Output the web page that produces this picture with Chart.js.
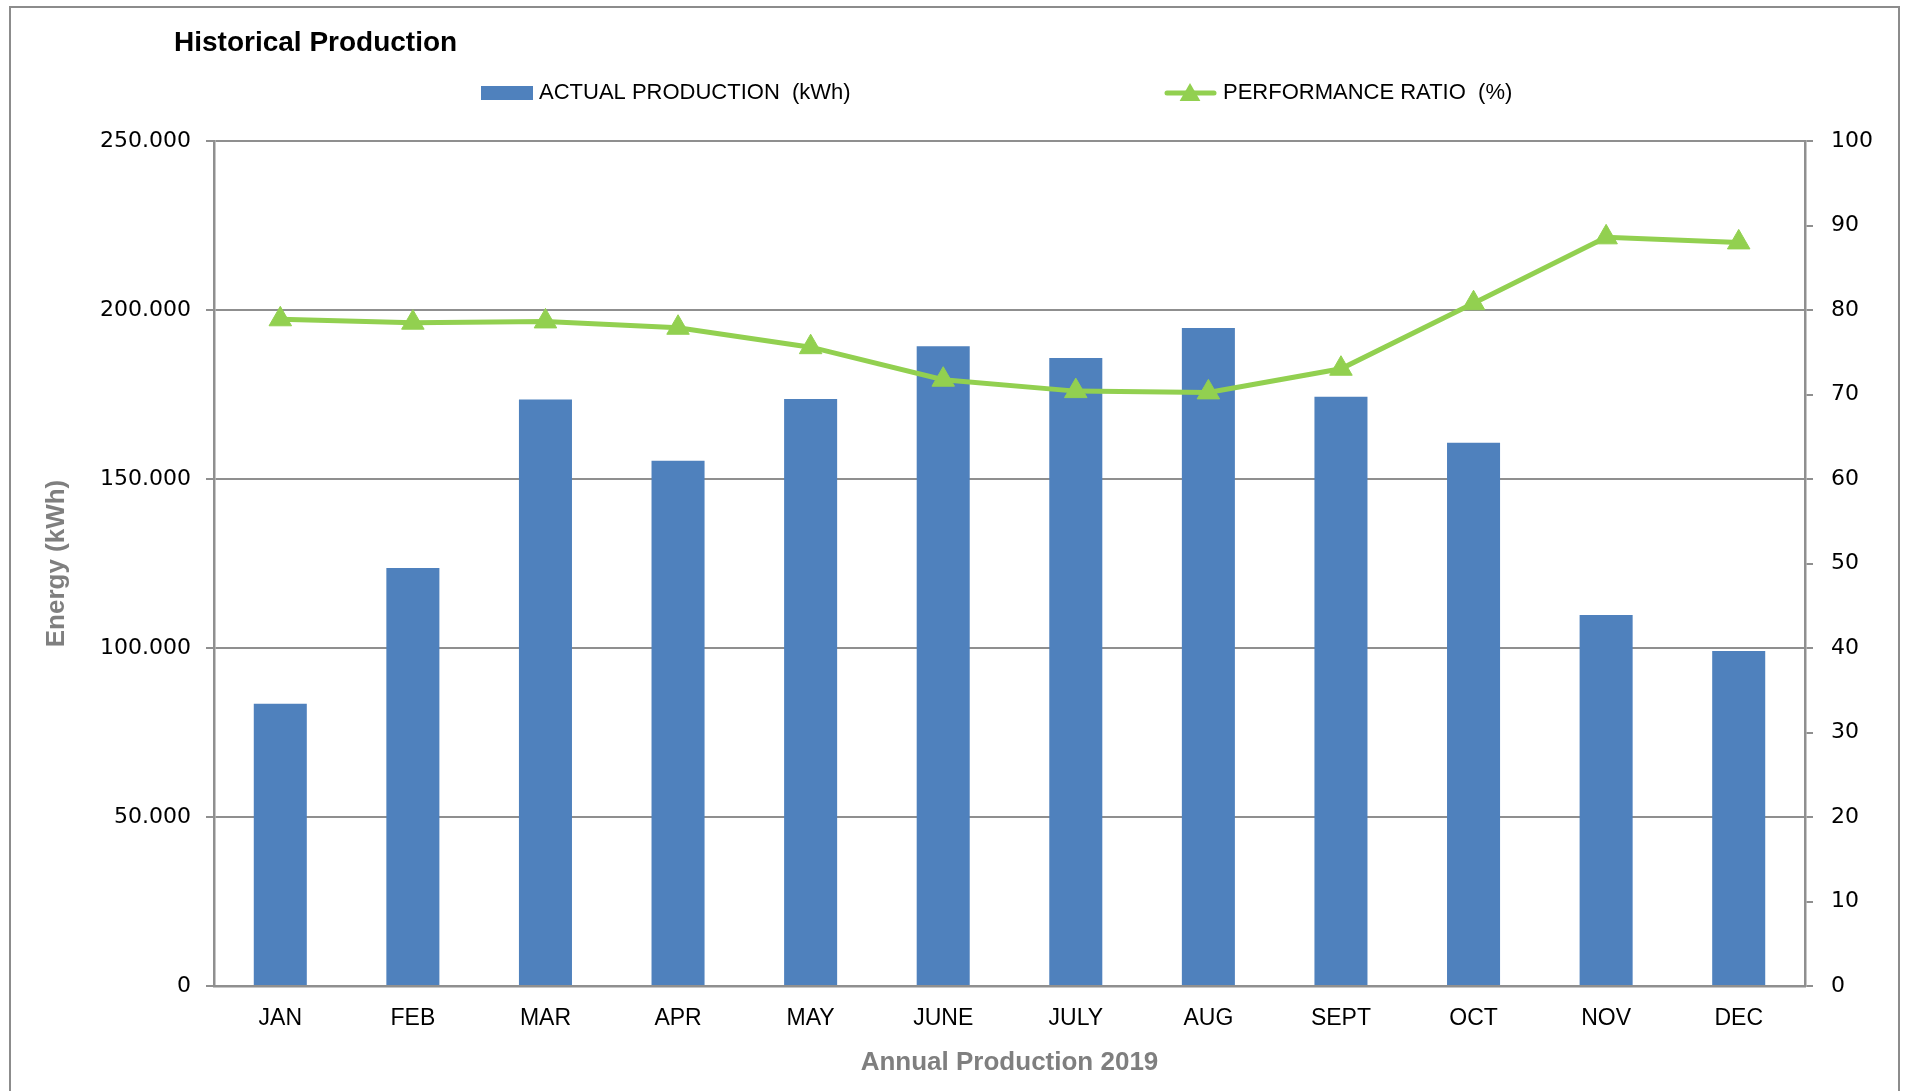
<!DOCTYPE html>
<html>
<head>
<meta charset="utf-8">
<title>Historical Production</title>
<script src="https://cdn.jsdelivr.net/npm/chart.js@4.4.1/dist/chart.umd.min.js"></script>
<style>
  html, body { margin: 0; padding: 0; background: #fff; overflow: hidden; }
  #frame {
    position: absolute; left: 9px; top: 6px; width: 1891px; height: 1200px;
    border: 2px solid #8c8c8c; box-sizing: border-box;
  }
  #chartCanvas { position: absolute; left: 0; top: 0; }
</style>
</head>
<body>
<div id="frame"></div>
<canvas id="chartCanvas" width="1908" height="1091"></canvas>
<script>
const chartTitle = 'Historical Production';
const months = ['JAN', 'FEB', 'MAR', 'APR', 'MAY', 'JUNE', 'JULY', 'AUG', 'SEPT', 'OCT', 'NOV', 'DEC'];
const production = [83500, 123700, 173500, 155400, 173700, 189300, 185800, 194700, 174300, 160700, 109800, 99100];
const performanceRatio = [78.9, 78.5, 78.65, 77.9, 75.6, 71.75, 70.4, 70.25, 73.05, 80.8, 88.6, 88.0];
const productionLabel = 'ACTUAL PRODUCTION  (kWh)';
const ratioLabel = 'PERFORMANCE RATIO  (%)';
const yTitle = 'Energy (kWh)';
const xTitle = 'Annual Production 2019';

const barColor = '#4f81bd';
const lineColor = '#92d050';
const gridColor = '#8f8f8f';
const textFont = '"Liberation Sans", Arial, sans-serif';
const numberFont = '"DejaVu Sans", Verdana, sans-serif';

function formatThousands(v) {
    return String(v).replace(/\B(?=(\d{3})+(?!\d))/g, '.');
}

function drawTriangle(ctx, x, y, r) {
    ctx.beginPath();
    ctx.moveTo(x, y - r);
    ctx.lineTo(x + r * 0.866, y + r / 2);
    ctx.lineTo(x - r * 0.866, y + r / 2);
    ctx.closePath();
    ctx.fill();
}

// title + legend drawn by hand, Excel spreads the legend items far apart
const headerPlugin = {
    id: 'header',
    afterDraw(chart) {
        const ctx = chart.ctx;
        const sets = chart.data.datasets;
        ctx.save();
        ctx.textBaseline = 'middle';
        ctx.textAlign = 'left';
        ctx.fillStyle = '#000';
        ctx.font = 'bold 28px ' + textFont;
        ctx.fillText(chartTitle, 174, 43);

        ctx.font = '22px ' + textFont;
        ctx.fillStyle = sets[0].backgroundColor;
        ctx.fillRect(481, 86, 52, 14);
        ctx.fillStyle = '#000';
        ctx.fillText(sets[0].label, 539, 93);

        ctx.strokeStyle = sets[1].borderColor;
        ctx.lineWidth = 5;
        ctx.lineCap = 'round';
        ctx.beginPath();
        ctx.moveTo(1167, 93);
        ctx.lineTo(1214, 93);
        ctx.stroke();
        ctx.fillStyle = sets[1].borderColor;
        drawTriangle(ctx, 1190, 95, 12);
        ctx.fillStyle = '#000';
        ctx.fillText(sets[1].label, 1223, 93);
        ctx.restore();
    }
};

const ctxChart = document.getElementById('chartCanvas').getContext('2d');
const productionChart = new Chart(ctxChart, {
    type: 'bar',
    data: {
        labels: months,
        datasets: [{
            type: 'bar',
            label: productionLabel,
            data: production,
            backgroundColor: barColor,
            barPercentage: 0.4,
            categoryPercentage: 1,
            yAxisID: 'y',
            order: 1
        }, {
            type: 'line',
            label: ratioLabel,
            data: performanceRatio,
            borderColor: lineColor,
            backgroundColor: lineColor,
            borderWidth: 5,
            pointStyle: 'triangle',
            pointRadius: 13,
            pointBackgroundColor: lineColor,
            pointBorderColor: lineColor,
            pointBorderWidth: 1,
            tension: 0,
            yAxisID: 'y1',
            order: 0
        }]
    },
    options: {
        responsive: false,
        animation: false,
        layout: { padding: { top: 141, left: 0, right: 0, bottom: 0 } },
        plugins: {
            legend: { display: false },
            title: { display: false },
            tooltip: { enabled: false }
        },
        scales: {
            x: {
                grid: { display: false, drawTicks: false },
                border: { color: gridColor, width: 2.5 },
                ticks: { color: '#000', padding: 19, font: { family: textFont, size: 23 } },
                title: {
                    display: true, text: xTitle, color: '#7f7f7f',
                    font: { family: textFont, size: 26, weight: 'bold' },
                    padding: { top: 0, bottom: 13 }
                },
                afterFit: s => { s.height = 105; }
            },
            y: {
                position: 'left',
                min: 0,
                max: 250000,
                ticks: {
                    stepSize: 50000, color: '#000', padding: 15,
                    font: { family: numberFont, size: 22 },
                    callback: v => formatThousands(v)
                },
                grid: { color: gridColor, lineWidth: 2, tickLength: 8 },
                border: { color: gridColor, width: 2.5 },
                title: {
                    display: true, text: yTitle, color: '#7f7f7f',
                    font: { family: textFont, size: 26, weight: 'bold' },
                    padding: { top: 41, bottom: 0 }
                },
                afterFit: s => { s.width = 214; }
            },
            y1: {
                position: 'right',
                min: 0,
                max: 100,
                ticks: {
                    stepSize: 10, color: '#000', padding: 18,
                    font: { family: numberFont, size: 22 }
                },
                grid: { drawOnChartArea: false, color: gridColor, lineWidth: 2, tickLength: 8 },
                border: { color: gridColor, width: 2.5 },
                afterFit: s => { s.width = 103; }
            }
        }
    },
    plugins: [headerPlugin]
});
</script>
</body>
</html>
